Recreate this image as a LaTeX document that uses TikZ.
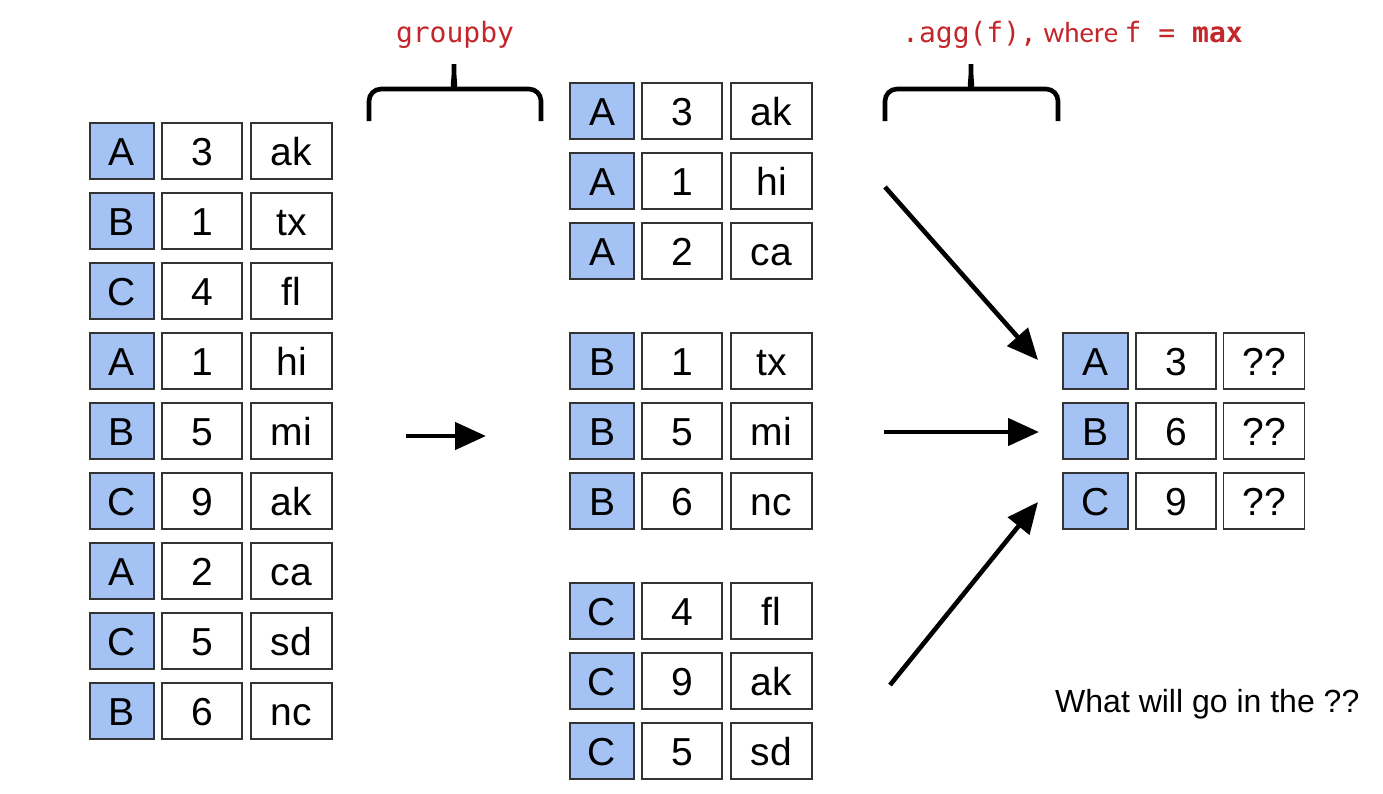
\documentclass[tikz,border=0pt]{standalone}
\usepackage{fontspec}
\setmainfont{Liberation Sans}
\newfontfamily\codefont{DejaVu Sans Mono}
\newfontfamily\calfont{Carlito}
\usetikzlibrary{arrows.meta}
\definecolor{keyblue}{HTML}{A4C2F4}
\definecolor{cellline}{HTML}{333333}
\definecolor{codered}{HTML}{C3272B}
\begin{document}
\begin{tikzpicture}[x=1pt,y=-1pt,
  cell/.style={draw=cellline,line width=1.4pt,minimum height=56pt,inner sep=0pt,
    font=\fontsize{39}{39}\selectfont,text height=28pt,text depth=0pt},
  keycell/.style={cell,fill=keyblue,minimum width=64pt},
  numcell/.style={cell,fill=white,minimum width=80pt},
  strcell/.style={cell,fill=white,minimum width=81pt},
  bigarrow/.style={line width=4.6pt,-{Triangle[length=31pt,width=27pt]}},
  bracepath/.style={line width=4.6pt,line cap=butt,rounded corners=12pt},
  codelabel/.style={text=codered,inner sep=0pt,font=\codefont\fontsize{28}{28}\selectfont}
]
\useasboundingbox (0,0) rectangle (1383,793);
\fill[white] (0,0) rectangle (1383,793);

% left table
\foreach \k/\n/\s [count=\i from 0] in {A/3/ak,B/1/tx,C/4/fl,A/1/hi,B/5/mi,C/9/ak,A/2/ca,C/5/sd,B/6/nc}{
  \node[keycell] (L\i a) at (122,151+70*\i) {\k};
  \node[numcell] (L\i b) at (202,151+70*\i) {\n};
  \node[strcell] (L\i c) at (291.5,151+70*\i) {\s};
}

% middle (grouped) tables
\foreach \k/\n/\s/\y [count=\i from 0] in {A/3/ak/111,A/1/hi/181,A/2/ca/251,B/1/tx/361,B/5/mi/431,B/6/nc/501,C/4/fl/611,C/9/ak/681,C/5/sd/751}{
  \node[keycell] (M\i a) at (602,\y) {\k};
  \node[numcell] (M\i b) at (682,\y) {\n};
  \node[strcell] (M\i c) at (771.5,\y) {\s};
}

% right (result) table
\foreach \k/\n/\y [count=\i from 0] in {A/3/361,B/6/431,C/9/501}{
  \node[keycell,minimum width=65pt] (R\i a) at (1095.5,\y) {\k};
  \node[numcell] (R\i b) at (1176,\y) {\n};
  \node[strcell] (R\i c) at (1264,\y) {??};
}

% arrows
\coordinate (g0) at (406,436);
\coordinate (g1) at (486,436);
\draw[bigarrow] (g0) -- (g1);

\coordinate (a0) at (885,187);
\coordinate (a1) at (1038,360);
\coordinate (b0) at (884,432);
\coordinate (b1) at (1039,432);
\coordinate (c0) at (890,685);
\coordinate (c1) at (1038,502);
\draw[bigarrow] (a0) -- (a1);
\draw[bigarrow] (b0) -- (b1);
\draw[bigarrow] (c0) -- (c1);

% braces
\draw[bracepath] (369,121) -- (369,89) -- (444,89)
  .. controls (451,89) and (454,84) .. (454,57)
  .. controls (454,84) and (457,89) .. (464,89) -- (541,89) -- (541,121);
\draw[bracepath] (885,121) -- (885,89) -- (961,89)
  .. controls (968,89) and (971,84) .. (971,57)
  .. controls (971,84) and (974,89) .. (981,89) -- (1058,89) -- (1058,121);

% labels
\node[codelabel,anchor=base] (lgroup) at (455,42) {groupby};
\node[codelabel,anchor=base west] (lagg) at (902,42)
  {.agg(f),{\calfont\fontsize{29}{29}\selectfont\ where\ }f = \textbf{max}};

\node[anchor=base west,inner sep=0pt,font=\fontsize{32}{32}\selectfont] (q) at (1055,712) {What will go in the ??};
\end{tikzpicture}
\end{document}
